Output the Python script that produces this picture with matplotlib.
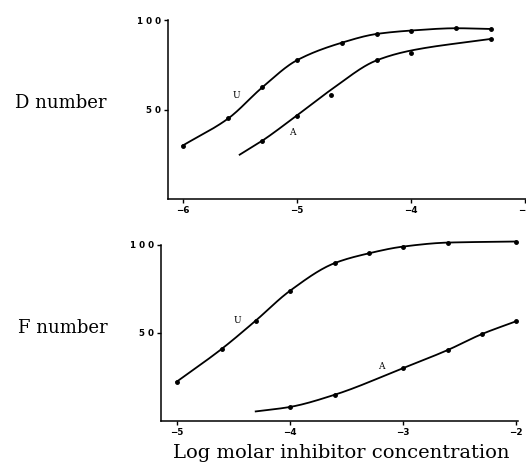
import numpy as np
import matplotlib
matplotlib.use("Agg")
import matplotlib.pyplot as plt

# log molar concentrations and values
d_u_x = [-6.0, -5.6, -5.3, -5.0, -4.6, -4.3, -4.0, -3.6, -3.3]
d_u_y = [29.8, 45.0, 62.5, 77.5, 87.5, 92.3, 94.2, 95.5, 95.1]
d_a_x = [-5.3, -5.0, -4.7, -4.3, -4.0, -3.3]
d_a_y = [32.6, 46.6, 58.4, 77.5, 81.8, 89.5]
# drawn (fitted) curve for A, top panel
d_a_cx = [-5.5, -5.3, -5.0, -4.7, -4.3, -4.0, -3.3]
d_a_cy = [24.7, 32.6, 46.6, 61.0, 77.5, 83.0, 89.5]

f_u_x = [-5.0, -4.6, -4.3, -4.0, -3.6, -3.3, -3.0, -2.6, -2.0]
f_u_y = [22.3, 41.0, 57.0, 73.8, 89.7, 95.2, 99.0, 101.3, 101.9]
f_a_x = [-4.0, -3.6, -3.0, -2.6, -2.3, -2.0]
f_a_y = [8.0, 15.0, 30.0, 40.4, 49.4, 56.6]
f_a_cx = [-4.3, -4.0, -3.6, -3.0, -2.6, -2.3, -2.0]
f_a_cy = [5.5, 8.0, 15.0, 30.0, 40.4, 49.4, 56.6]


def smooth(x, y, n=200):
    # monotone cubic (pchip-like) through the knots, only for drawing the line
    x = np.asarray(x, float)
    y = np.asarray(y, float)
    h = np.diff(x)
    d = np.diff(y) / h
    m = np.zeros_like(y)
    m[0], m[-1] = d[0], d[-1]
    for i in range(1, len(y) - 1):
        if d[i - 1] * d[i] > 0:
            w1 = 2 * h[i] + h[i - 1]
            w2 = h[i] + 2 * h[i - 1]
            m[i] = (w1 + w2) / (w1 / d[i - 1] + w2 / d[i])
    xs = np.linspace(x[0], x[-1], n)
    k = np.clip(np.searchsorted(x, xs) - 1, 0, len(x) - 2)
    t = (xs - x[k]) / h[k]
    h00 = 2 * t**3 - 3 * t**2 + 1
    h10 = t**3 - 2 * t**2 + t
    h01 = -2 * t**3 + 3 * t**2
    h11 = t**3 - t**2
    ys = h00 * y[k] + h10 * h[k] * m[k] + h01 * y[k + 1] + h11 * h[k] * m[k + 1]
    return xs, ys


fig = plt.figure(figsize=(5.26, 4.70), dpi=100)
ax1 = fig.add_axes([0.319, 0.577, 0.681, 0.380])
ax2 = fig.add_axes([0.3055, 0.104, 0.6795, 0.375])

serif = "DejaVu Serif"
tick_font = dict(family="DejaVu Sans", size=6.3, weight="bold")


def style(ax, xticks, xlim):
    ax.set_xlim(*xlim)
    ax.set_ylim(0, 100)
    for s in ["top", "right"]:
        ax.spines[s].set_visible(False)
    for s in ["left", "bottom"]:
        ax.spines[s].set_linewidth(1.1)
    ax.set_xticks(xticks)
    ax.set_xticklabels(["\u2212%d" % abs(v) for v in xticks], **tick_font)
    ax.set_yticks([50, 100])
    ax.set_yticklabels(["5 0", "1 0 0"], **tick_font)
    ax.tick_params(length=3, width=1, pad=2)


# top panel: D number
for cx, cy, px, py in [(d_u_x, d_u_y, d_u_x, d_u_y), (d_a_cx, d_a_cy, d_a_x, d_a_y)]:
    xs, ys = smooth(cx, cy)
    ax1.plot(xs, ys, color="black", lw=1.3, clip_on=False)
    ax1.plot(px, py, "o", color="black", ms=2.5, clip_on=False)
ax1.text(-5.53, 58, "U", fontsize=6.5, family=serif, ha="center", va="center")
ax1.text(-5.04, 37, "A", fontsize=6.5, family=serif, ha="center", va="center")
style(ax1, [-6, -5, -4, -3], (-6.13, -2.99))

# bottom panel: F number
for cx, cy, px, py in [(f_u_x, f_u_y, f_u_x, f_u_y), (f_a_cx, f_a_cy, f_a_x, f_a_y)]:
    xs, ys = smooth(cx, cy)
    ax2.plot(xs, ys, color="black", lw=1.3, clip_on=False)
    ax2.plot(px, py, "o", color="black", ms=2.5, clip_on=False)
ax2.text(-4.46, 57, "U", fontsize=6.5, family=serif, ha="center", va="center")
ax2.text(-3.19, 31, "A", fontsize=6.5, family=serif, ha="center", va="center")
style(ax2, [-5, -4, -3, -2], (-5.14, -1.98))

fig.text(0.116, 0.781, "D number", family=serif, fontsize=13, ha="center", va="center")
fig.text(0.12, 0.302, "F number", family=serif, fontsize=13, ha="center", va="center")
fig.text(0.649, 0.036, "Log molar inhibitor concentration", family=serif,
         fontsize=14, ha="center", va="center")

fig.savefig("out.png", dpi=100)
